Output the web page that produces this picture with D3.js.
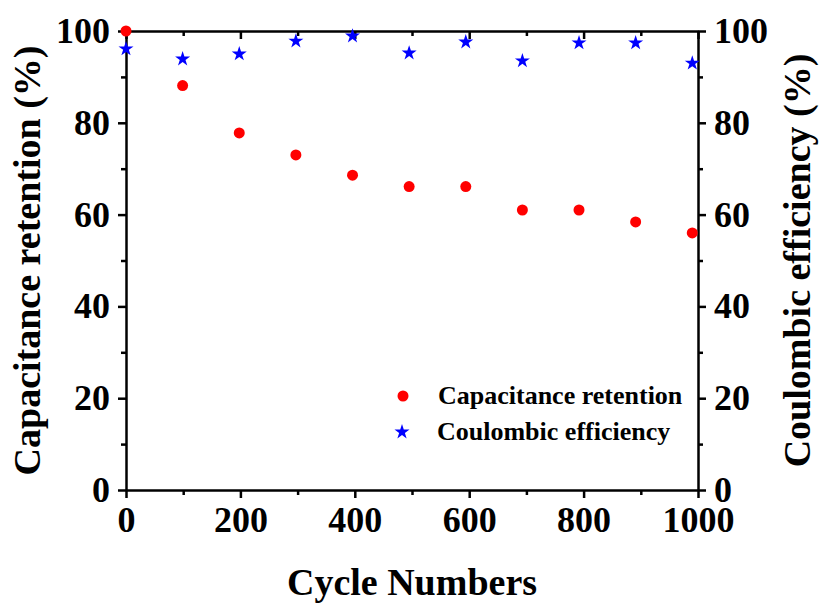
<!DOCTYPE html>
<html>
<head>
<meta charset="utf-8">
<script src="https://cdn.jsdelivr.net/npm/d3@7"></script>
<style>
body { margin: 0; background: #fff; }
text { font-family: "Liberation Serif", "Times New Roman", serif; font-weight: bold; }
.axis path, .axis line { stroke: #000; stroke-width: 2.5; }
</style>
</head>
<body>
<script>
var cycles = [0, 99, 198, 297, 396, 495, 594, 693, 792, 891, 990];
var retention = [100, 88.1, 77.8, 73, 68.6, 66.1, 66.1, 61, 61, 58.4, 56];
var efficiency = [96.1, 93.9, 95, 97.8, 98.9, 95.2, 97.6, 93.5, 97.4, 97.4, 93];
var xTicks = [0, 200, 400, 600, 800, 1000];
var yTicks = [0, 20, 40, 60, 80, 100];

var width = 821,
    height = 604,
    plotLeft = 126,
    plotRight = 698,
    plotTop = 31,
    plotBottom = 490;

var svg = d3.select("body")
            .append("svg")
            .attr("width", width)
            .attr("height", height);

var xScale = d3.scaleLinear().domain([0, 1000]).range([plotLeft, plotRight]);
var yScale = d3.scaleLinear().domain([0, 100]).range([plotBottom, plotTop]);

var minorX = d3.range(100, 1000, 200);
var minorY = d3.range(10, 100, 20);

// minor ticks first, then major axes on top
svg.append("g").attr("class", "axis")
    .attr("transform", "translate(0," + plotBottom + ")")
    .call(d3.axisBottom(xScale).tickValues(minorX).tickSize(5).tickFormat(""))
    .select(".domain").remove();
svg.append("g").attr("class", "axis")
    .attr("transform", "translate(0," + plotTop + ")")
    .call(d3.axisBottom(xScale).tickValues(minorX).tickSize(5).tickFormat(""))
    .select(".domain").remove();
svg.append("g").attr("class", "axis")
    .attr("transform", "translate(" + plotLeft + ",0)")
    .call(d3.axisLeft(yScale).tickValues(minorY).tickSize(5).tickFormat(""))
    .select(".domain").remove();
svg.append("g").attr("class", "axis")
    .attr("transform", "translate(" + plotRight + ",0)")
    .call(d3.axisRight(yScale).tickValues(minorY).tickSize(5).tickFormat(""))
    .select(".domain").remove();

var xAxis = svg.append("g").attr("class", "axis")
    .attr("transform", "translate(0," + plotBottom + ")")
    .call(d3.axisBottom(xScale).tickValues(xTicks).tickFormat(d3.format("d"))
        .tickSize(8).tickSizeOuter(0).tickPadding(7));
xAxis.selectAll("text").attr("font-size", 36).attr("fill", "#000").attr("dy", "0.75em");

svg.append("g").attr("class", "axis")
    .attr("transform", "translate(0," + plotTop + ")")
    .call(d3.axisBottom(xScale).tickValues(xTicks).tickSize(8).tickSizeOuter(0).tickFormat(""));

var yAxis = svg.append("g").attr("class", "axis")
    .attr("transform", "translate(" + plotLeft + ",0)")
    .call(d3.axisLeft(yScale).tickValues(yTicks).tickSize(8).tickSizeOuter(0).tickPadding(8));
yAxis.selectAll("text").attr("font-size", 36).attr("fill", "#000");

var yAxis2 = svg.append("g").attr("class", "axis")
    .attr("transform", "translate(" + plotRight + ",0)")
    .call(d3.axisRight(yScale).tickValues(yTicks).tickSize(8).tickSizeOuter(0).tickPadding(8));
yAxis2.selectAll("text").attr("font-size", 36).attr("fill", "#000");

// axis titles
svg.append("text")
    .attr("x", (plotLeft + plotRight) / 2)
    .attr("y", 595)
    .attr("text-anchor", "middle")
    .attr("font-size", 38)
    .text("Cycle Numbers");

svg.append("text")
    .attr("transform", "translate(40," + (plotTop + plotBottom) / 2 + ") rotate(-90)")
    .attr("text-anchor", "middle")
    .attr("font-size", 38)
    .text("Capacitance retention (%)");

svg.append("text")
    .attr("transform", "translate(810," + (plotTop + plotBottom) / 2 + ") rotate(-90)")
    .attr("text-anchor", "middle")
    .attr("font-size", 38)
    .text("Coulombic efficiency (%)");

// data
var star = d3.symbol().type(d3.symbolStar).size(70);

svg.append("g")
    .selectAll("path")
    .data(cycles)
    .enter()
    .append("path")
    .attr("d", star)
    .attr("transform", function (d, i) {
        return "translate(" + xScale(d) + "," + yScale(efficiency[i]) + ")";
    })
    .style("fill", "#0000ff");

svg.append("g")
    .selectAll("circle")
    .data(cycles)
    .enter()
    .append("circle")
    .attr("cx", function (d) { return xScale(d); })
    .attr("cy", function (d, i) { return yScale(retention[i]); })
    .attr("r", 5.5)
    .style("fill", "#ff0000");

// legend
svg.append("circle").attr("cx", 403).attr("cy", 396).attr("r", 5.5).style("fill", "#ff0000");
svg.append("text").attr("x", 438).attr("y", 404).attr("font-size", 26).text("Capacitance retention");
svg.append("path").attr("d", star).attr("transform", "translate(402,432)").style("fill", "#0000ff");
svg.append("text").attr("x", 437).attr("y", 440).attr("font-size", 26).text("Coulombic efficiency");
</script>
</body>
</html>
